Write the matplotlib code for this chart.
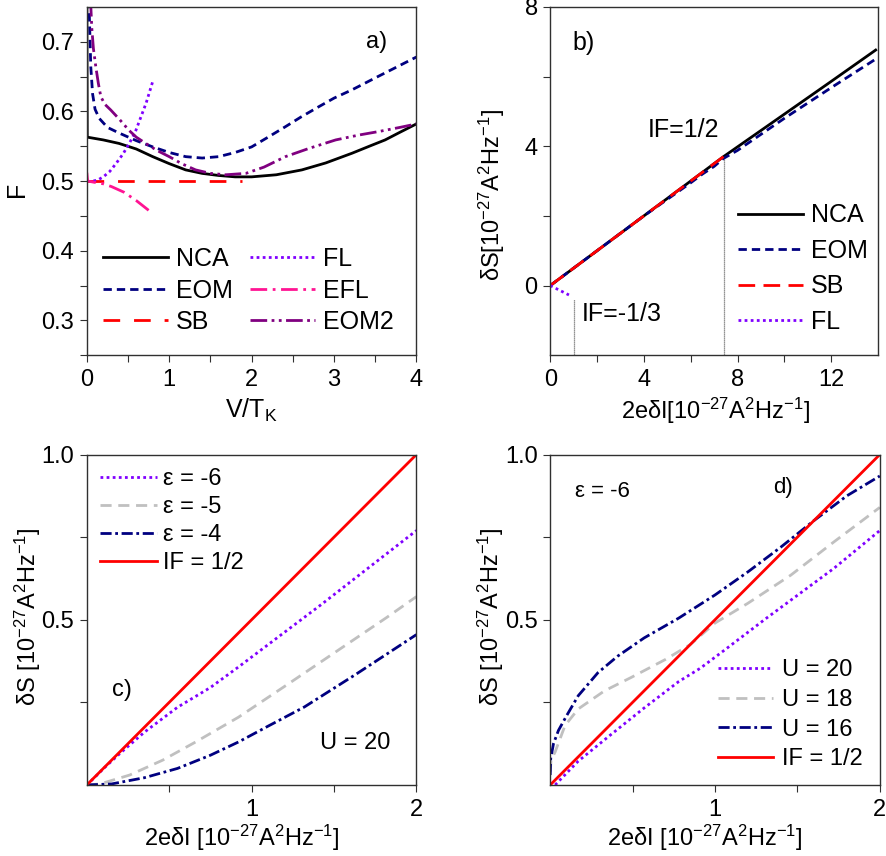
import matplotlib
matplotlib.use("Agg")
import matplotlib.pyplot as plt
from matplotlib.ticker import MultipleLocator, FixedLocator

plt.rcParams['font.family'] = ['Liberation Sans', 'DejaVu Sans']
plt.rcParams['mathtext.default'] = 'regular'

# colours
VIOLET = '#8000ff'
NAVY = '#000080'
GRAY = '#c0c0c0'
PINK = '#ff1493'
PURPLE = '#800080'
RED = '#ff0000'

# ---- a) Fano factor vs V/T_K ----
nca_v = [0.0, 0.005, 0.2, 0.39, 0.6, 0.8, 1.0, 1.2, 1.4, 1.6, 1.8, 2.0, 2.3, 2.61, 2.9,
         3.22, 3.45, 3.62, 3.8, 4.0]
nca_f = [0.76, 0.563, 0.559, 0.554, 0.546, 0.535, 0.525, 0.516, 0.511, 0.508, 0.506, 0.506,
         0.509, 0.516, 0.526, 0.540, 0.551, 0.559, 0.570, 0.582]
eom_v = [0.02, 0.03, 0.048, 0.07, 0.1, 0.15, 0.25, 0.39, 0.6, 0.8, 1.0, 1.2, 1.4, 1.6, 1.8,
         2.0, 2.2, 2.41, 2.6, 2.82, 3.0, 3.22, 3.5, 3.75, 4.0]
eom_f = [0.76, 0.74, 0.664, 0.625, 0.603, 0.59, 0.577, 0.569, 0.558, 0.549, 0.541, 0.535,
         0.533, 0.535, 0.541, 0.549, 0.563, 0.578, 0.592, 0.607, 0.619, 0.631, 0.648, 0.663, 0.678]
sb_v = [0.0, 1.88]
sb_f = [0.5, 0.5]
fl_v = [0.08, 0.14, 0.2, 0.28, 0.36, 0.44, 0.52, 0.59, 0.65, 0.72, 0.8]
fl_f = [0.5, 0.502, 0.506, 0.514, 0.526, 0.539, 0.555, 0.571, 0.59, 0.612, 0.643]
efl_v = [0.0, 0.01, 0.1, 0.2, 0.3, 0.45, 0.6, 0.75]
efl_f = [0.512, 0.5, 0.498, 0.496, 0.492, 0.484, 0.472, 0.458]
eom2_v = [0.045, 0.06, 0.08, 0.109, 0.14, 0.17, 0.22, 0.29, 0.4, 0.51, 0.6, 0.715, 0.85, 1.0,
          1.15, 1.32, 1.5, 1.685, 1.93, 2.15, 2.41, 2.7, 3.02, 3.3, 3.54, 3.8, 4.0]
eom2_f = [0.76, 0.72, 0.69, 0.664, 0.64, 0.621, 0.61, 0.602, 0.588, 0.573, 0.563, 0.554, 0.544,
          0.535, 0.525, 0.516, 0.511, 0.509, 0.511, 0.52, 0.535, 0.547, 0.559, 0.566, 0.571,
          0.577, 0.582]

# ---- b) noise step vs current step ----
b_nca_x = [0, 2, 4, 6, 7.4, 10, 12, 13.9]
b_nca_y = [0, 1.0, 2.0, 3.0, 3.7, 4.92, 5.86, 6.76]
b_eom_x = [0, 2, 4, 6, 6.5, 7.0, 7.4, 8, 10, 12, 13.9]
b_eom_y = [0, 1.0, 2.0, 2.95, 3.2, 3.42, 3.65, 3.88, 4.8, 5.68, 6.5]
b_sb_x = [0, 7.4]
b_sb_y = [0, 3.7]
b_fl_x = [0, 0.8]
b_fl_y = [0, -0.27]
mark_x = [1.02, 7.44]
mark_top = [-0.38, 3.69]

# ---- c) U = 20, different epsilon ----
c_eps6_x = [0, 0.05, 0.1, 0.2, 0.35, 0.55, 0.75, 0.92, 1.42, 2.0]
c_eps6_y = [0, 0.024, 0.049, 0.095, 0.16, 0.235, 0.295, 0.357, 0.545, 0.77]
c_eps5_x = [0, 0.08, 0.26, 0.46, 0.66, 0.92, 1.22, 1.52, 1.82, 2.0]
c_eps5_y = [0, 0.003, 0.03, 0.075, 0.13, 0.205, 0.305, 0.406, 0.507, 0.57]
c_eps4_x = [0, 0.15, 0.35, 0.55, 0.75, 0.92, 1.1, 1.32, 1.63, 2.0]
c_eps4_y = [0, 0.003, 0.022, 0.05, 0.09, 0.13, 0.178, 0.236, 0.334, 0.455]
if_x = [0, 2]
if_y = [0, 1.0]

# ---- d) eps = -6, different U ----
d_u20_x = [0.03, 0.17, 0.37, 0.57, 0.78, 0.91, 1.06, 1.31, 1.72, 2.0]
d_u20_y = [0.0, 0.072, 0.153, 0.233, 0.313, 0.353, 0.409, 0.504, 0.655, 0.77]
d_u18_x = [0, 0.005, 0.03, 0.09, 0.17, 0.33, 0.49, 0.7, 0.85, 1.0, 1.2, 1.46, 1.72, 2.0]
d_u18_y = [0.04, 0.075, 0.10, 0.18, 0.23, 0.285, 0.325, 0.38, 0.425, 0.49, 0.55, 0.635, 0.735, 0.84]
d_u16_x = [0, 0.003, 0.02, 0.05, 0.1, 0.17, 0.29, 0.41, 0.57, 0.78, 1.0, 1.2, 1.4, 1.6, 1.8, 2.0]
d_u16_y = [0.03, 0.08, 0.125, 0.165, 0.21, 0.27, 0.34, 0.39, 0.445, 0.505, 0.575, 0.645, 0.72, 0.8, 0.875, 0.935]

LW = 2.0
TICK_FS = 17

fig = plt.figure(figsize=(8.86, 8.56), dpi=100)
ax_a = fig.add_axes([0.098, 0.585, 0.372, 0.407])
ax_b = fig.add_axes([0.621, 0.585, 0.370, 0.407])
ax_c = fig.add_axes([0.098, 0.083, 0.372, 0.386])
ax_d = fig.add_axes([0.621, 0.083, 0.372, 0.386])


def style(ax):
    for s in ax.spines.values():
        s.set_color('#303030')
        s.set_linewidth(1.0)
    ax.tick_params(which='both', direction='out', length=5, width=0.8,
                   labelsize=TICK_FS, top=False, right=False, color='#303030')
    ax.tick_params(axis='x', pad=5)
    ax.tick_params(axis='y', pad=4)


# panel a
ax_a.plot(nca_v, nca_f, color='black', lw=LW, label='NCA')
ax_a.plot(eom_v, eom_f, color=NAVY, lw=LW, ls=(0, (3, 1.8)), label='EOM')
ax_a.plot(sb_v, sb_f, color=RED, lw=LW, ls=(0, (6, 5)), label='SB')
ax_a.plot(fl_v, fl_f, color=VIOLET, lw=LW, ls=(0, (1, 1.2)), label='FL')
ax_a.plot(efl_v, efl_f, color=PINK, lw=LW, ls=(0, (6, 2, 1, 2)), label='EFL')
ax_a.plot(eom2_v, eom2_f, color=PURPLE, lw=LW, ls=(0, (6, 1.6, 1, 1.6, 1, 1.6)), label='EOM2')
ax_a.set_xlim(0, 4)
ax_a.set_ylim(0.25, 0.75)
ax_a.xaxis.set_major_locator(MultipleLocator(1))
ax_a.xaxis.set_minor_locator(MultipleLocator(0.5))
ax_a.yaxis.set_major_locator(FixedLocator([0.3, 0.4, 0.5, 0.6, 0.7]))
ax_a.yaxis.set_minor_locator(FixedLocator([0.25, 0.35, 0.45, 0.55, 0.65]))
style(ax_a)
ax_a.set_xlabel('V/T$_{K}$', fontsize=18)
ax_a.set_ylabel('F', fontsize=18)
ax_a.xaxis.set_label_coords(0.5, -0.12)
ax_a.yaxis.set_label_coords(-0.175, 0.477)
ax_a.text(0.848, 0.9, 'a)', transform=ax_a.transAxes, fontsize=17, va='center')
ax_a.legend(ncol=2, loc='upper left', bbox_to_anchor=(0.048, 0.31), frameon=False,
            fontsize=18, borderpad=0, borderaxespad=0, handlelength=2.6,
            handletextpad=0.32, labelspacing=0.3, columnspacing=0.7)

# panel b
unit = '[10$^{-27}$A$^{2}$Hz$^{-1}$]'
for xv, top in zip(mark_x, mark_top):
    ax_b.plot([xv, xv], [-2, top], color='#707070', lw=0.9, ls=(0, (1, 0.6)))
ax_b.plot(b_nca_x, b_nca_y, color='black', lw=LW, label='NCA')
ax_b.plot(b_eom_x, b_eom_y, color=NAVY, lw=LW, ls=(0, (3, 1.8)), label='EOM')
ax_b.plot(b_sb_x, b_sb_y, color=RED, lw=LW, ls=(0, (6, 3)), label='SB')
ax_b.plot(b_fl_x, b_fl_y, color=VIOLET, lw=LW, ls=(0, (1, 1.2)), label='FL')
ax_b.set_xlim(0, 14)
ax_b.set_ylim(-2, 8)
ax_b.xaxis.set_major_locator(FixedLocator([0, 4, 8, 12]))
ax_b.xaxis.set_minor_locator(FixedLocator([2, 6, 10]))
ax_b.yaxis.set_major_locator(FixedLocator([0, 4, 8]))
ax_b.yaxis.set_minor_locator(FixedLocator([2, 6]))
style(ax_b)
ax_b.set_xlabel('2eδI' + unit, fontsize=17)
ax_b.set_ylabel('δS' + unit, fontsize=17)
ax_b.xaxis.set_label_coords(0.503, -0.115)
ax_b.yaxis.set_label_coords(-0.131, 0.46)
ax_b.text(0.067, 0.897, 'b)', transform=ax_b.transAxes, fontsize=18, va='center')
ax_b.text(4.15, 4.46, 'IF=1/2', fontsize=18, va='center')
ax_b.text(1.34, -0.81, 'IF=-1/3', fontsize=18, va='center')
ax_b.legend(loc='upper left', bbox_to_anchor=(0.573, 0.436), frameon=False,
            fontsize=18, borderpad=0, borderaxespad=0, handlelength=2.6,
            handletextpad=0.32, labelspacing=0.46)

# panel c
ax_c.plot(c_eps6_x, c_eps6_y, color=VIOLET, lw=LW, ls=(0, (1, 1.2)), label='ε = -6')
ax_c.plot(c_eps5_x, c_eps5_y, color=GRAY, lw=LW, ls=(0, (4, 2.4)), label='ε = -5')
ax_c.plot(c_eps4_x, c_eps4_y, color=NAVY, lw=LW, ls=(0, (4, 1.3, 1, 1.3)), label='ε = -4')
ax_c.plot(if_x, if_y, color=RED, lw=LW, label='IF = 1/2')
# panel d
ax_d.plot(d_u20_x, d_u20_y, color=VIOLET, lw=LW, ls=(0, (1, 1.2)), label='U = 20')
ax_d.plot(d_u18_x, d_u18_y, color=GRAY, lw=LW, ls=(0, (4, 2.4)), label='U = 18')
ax_d.plot(d_u16_x, d_u16_y, color=NAVY, lw=LW, ls=(0, (4, 1.3, 1, 1.3)), label='U = 16')
ax_d.plot(if_x, if_y, color=RED, lw=LW, label='IF = 1/2')

for ax in (ax_c, ax_d):
    ax.set_xlim(0, 2)
    ax.set_ylim(0, 1)
    ax.xaxis.set_major_locator(FixedLocator([1, 2]))
    ax.xaxis.set_minor_locator(FixedLocator([0.5, 1.5]))
    ax.yaxis.set_major_locator(FixedLocator([0.5, 1.0]))
    ax.yaxis.set_minor_locator(FixedLocator([0.25, 0.75]))
    ax.yaxis.set_major_formatter(lambda v, p: f'{v:.1f}')
    ax.xaxis.set_major_formatter(lambda v, p: f'{v:.0f}')
    style(ax)
    ax.set_xlabel('2eδI ' + unit, fontsize=17)
    ax.set_ylabel('δS ' + unit, fontsize=17)
    ax.xaxis.set_label_coords(0.47, -0.115)
    ax.yaxis.set_label_coords(-0.134, 0.51)

ax_c.text(0.075, 0.288, 'c)', transform=ax_c.transAxes, fontsize=17, va='center')
ax_c.text(0.706, 0.127, 'U = 20', transform=ax_c.transAxes, fontsize=17, va='center')
ax_c.legend(loc='upper left', bbox_to_anchor=(0.04, 0.958), frameon=False,
            fontsize=17, borderpad=0, borderaxespad=0, handlelength=2.4,
            handletextpad=0.25, labelspacing=0.25)

ax_d.text(0.076, 0.889, 'ε = -6', transform=ax_d.transAxes, fontsize=16, va='center')
ax_d.text(0.676, 0.9, 'd)', transform=ax_d.transAxes, fontsize=16, va='center')
ax_d.legend(loc='upper left', bbox_to_anchor=(0.509, 0.38), frameon=False,
            fontsize=17, borderpad=0, borderaxespad=0, handlelength=2.35,
            handletextpad=0.35, labelspacing=0.32)

fig.savefig('out.png', dpi=100)
